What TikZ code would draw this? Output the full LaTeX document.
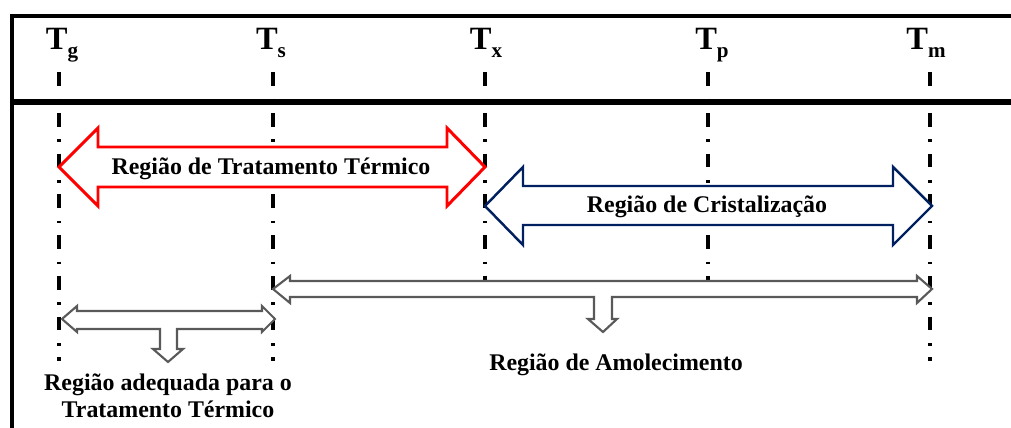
\documentclass[tikz,border=0pt]{standalone}
\usepackage{fontspec}
\setmainfont{Liberation Serif}
\definecolor{navyline}{RGB}{0,32,96}
\newcommand{\tsub}[1]{\raisebox{-4pt}{\fontsize{12}{12}\selectfont #1}}
\begin{document}
\begin{tikzpicture}[x=0.02cm, y=-0.02cm,
                        tline/.style={line width=1.8pt, dash pattern=on 7.9pt off 7.2pt on 1.4pt off 6.7pt},
                        tlabel/.style={font=\fontsize{18.5}{20}\selectfont\bfseries, anchor=base},
                        rlabel/.style={font=\fontsize{13.6}{16}\selectfont\bfseries, anchor=base},
                        hollow/.style={draw=black!65, line width=1.2pt, fill=white, line join=miter}]
                        \useasboundingbox (0,0) rectangle (1011,428);

                        \draw[line width=2pt] (12,428) -- (12,16) -- (1011,16);
                        \draw[line width=3.6pt] (12,102) -- (1011,102);

                        \node[tlabel] (Tg) at (62,50) {T\tsub{g}};
                        \node[tlabel] (Ts) at (271,50) {T\tsub{s}};
                        \node[tlabel] (Tx) at (486,50) {T\tsub{x}};
                        \node[tlabel] (Tp) at (712,50) {T\tsub{p}};
                        \node[tlabel] (Tm) at (926,50) {T\tsub{m}};

                        \draw[tline] (59,72) -- (59,361);
                        \draw[tline] (273,72) -- (273,361);
                        \draw[tline] (485,72) -- (485,281);
                        \draw[tline] (708,72) -- (708,281);
                        \draw[tline] (930,72) -- (930,361);

                        \filldraw[red, fill=white, line width=1.7pt, line join=miter] (59,167) -- (98,128) -- (98,147) -- (447,147) -- (447,128) -- (485,167)
                            -- (447,206) -- (447,187) -- (98,187) -- (98,206) -- cycle;
                        \filldraw[navyline, fill=white, line width=1.4pt, line join=miter] (485,206) -- (523,167) -- (523,186) -- (893,186) -- (893,167) -- (932,206)
                            -- (893,245) -- (893,225) -- (523,225) -- (523,245) -- cycle;

                        \filldraw[hollow] (273,289) -- (290,276) -- (290,281) -- (917,281) -- (917,276) -- (932,289) -- (917,303) -- (917,297)
                            -- (612,297) -- (612,319) -- (617,319) -- (603,332) -- (588,319) -- (594,319) -- (594,297) -- (290,297) -- (290,303) -- cycle;
                        \filldraw[hollow] (62,319) -- (77,306) -- (77,311) -- (262,311) -- (262,306) -- (275,319) -- (262,332) -- (262,329)
                            -- (177,329) -- (177,349) -- (183,349) -- (168,362) -- (153,349) -- (160,349) -- (160,329) -- (77,329) -- (77,332) -- cycle;

                        \node[rlabel] (trat) at (271,175) {Região de Tratamento Térmico};
                        \node[rlabel] (crist) at (707,213) {Região de Cristalização};
                        \node[rlabel] (amol) at (616,371) {Região de Amolecimento};
                        \node[rlabel] (adeq) at (168,391) {Região adequada para o};
                        \node[rlabel] (adeqb) at (168,418) {Tratamento Térmico};
                    \end{tikzpicture}
\end{document}
